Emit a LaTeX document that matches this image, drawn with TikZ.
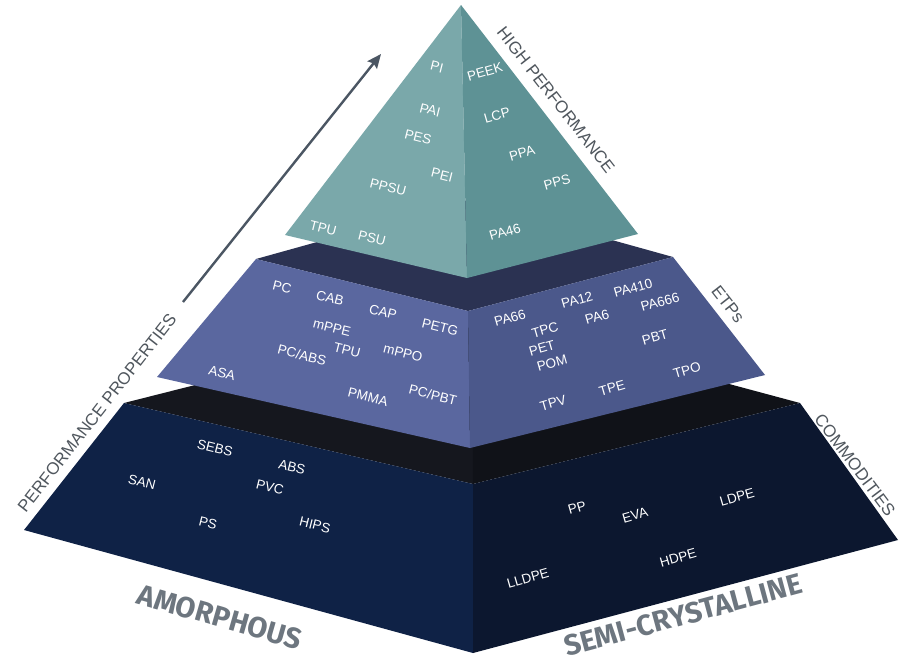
\documentclass[tikz,border=0pt]{standalone}
\usepackage{fontspec}
\setmainfont{Liberation Sans}
\newfontfamily\basefont{Fira Sans}
\usetikzlibrary{arrows.meta}
\definecolor{tealleft}{HTML}{7AA8AA}
\definecolor{tealright}{HTML}{5E9295}
\definecolor{midtop}{HTML}{2B3252}
\definecolor{midleft}{HTML}{5A679F}
\definecolor{midright}{HTML}{4B588B}
\definecolor{lowtop}{HTML}{15171E}
\definecolor{lowtopalt}{HTML}{101218}
\definecolor{lowleft}{HTML}{0F2246}
\definecolor{lowright}{HTML}{0C172F}
\definecolor{labelgray}{HTML}{50575E}
\definecolor{basegray}{HTML}{6D767F}
\definecolor{arrowgray}{HTML}{4B5663}
\tikzset{
  polylabel/.style={
    text=white,
    inner sep=1pt,
    font=\fontsize{13.5}{13.5}\selectfont
  },
  leftface/.style={polylabel, rotate=-14},
  rightface/.style={polylabel, rotate=16},
  sidelabel/.style={
    text=labelgray,
    inner sep=0pt,
    font=\fontsize{17}{17}\selectfont
  },
  baselabel/.style={
    text=basegray,
    inner sep=0pt,
    font=\basefont\bfseries\fontsize{29}{29}\selectfont
  }
}

\begin{document}
\begin{tikzpicture}[
  x=1pt, y=-1pt,
  face/.style={draw=none},
  perfArrow/.style={-{Stealth[length=14pt,width=12pt,inset=2pt]}, draw=arrowgray, fill=arrowgray, line width=2.4pt}
]
  \fill[white] (0,0) rectangle (904,665);
  \useasboundingbox (0,0) rectangle (904,665);

  % corners of the three tiers
  \coordinate (apex) at (461,5);
  \coordinate (topL) at (285,235);
  \coordinate (topM) at (467,278);
  \coordinate (topR) at (638,234);
  \coordinate (midL) at (256,259);
  \coordinate (midM) at (468,311);
  \coordinate (midR) at (673,257);
  \coordinate (midB) at (468,200);
  \coordinate (midBL) at (157,377);
  \coordinate (midBM) at (470,448);
  \coordinate (midBR) at (765,375);
  \coordinate (lowL) at (124,403);
  \coordinate (lowM) at (473,484);
  \coordinate (lowR) at (800,403);
  \coordinate (lowB) at (472,315);
  \coordinate (lowBL) at (24,530);
  \coordinate (lowBM) at (473,653);
  \coordinate (lowBR) at (898,540);

  % commodities
  \fill[face, lowtop] (lowL) -- (lowB) -- (lowM) -- cycle;
  \fill[face, lowtopalt] (lowB) -- (lowR) -- (lowM) -- cycle;
  \fill[face, lowleft] (lowL) -- (lowM) -- (lowBM) -- (lowBL) -- cycle;
  \fill[face, lowright] (lowM) -- (lowR) -- (lowBR) -- (lowBM) -- cycle;
  % ETPs
  \fill[face, midtop] (midL) -- (midB) -- (midR) -- (midM) -- cycle;
  \fill[face, midleft] (midL) -- (midM) -- (midBM) -- (midBL) -- cycle;
  \fill[face, midright] (midM) -- (midR) -- (midBR) -- (midBM) -- cycle;
  % high performance
  \fill[face, tealleft] (apex) -- (topM) -- (topL) -- cycle;
  \fill[face, tealright] (apex) -- (topR) -- (topM) -- cycle;

  \coordinate (arrowStart) at (183,302);
  \coordinate (arrowEnd) at (381,54);
  \draw[perfArrow] (arrowStart) -- (arrowEnd);

  \node[sidelabel, rotate=-52] (highperf) at (556,100) {HIGH PERFORMANCE};
  \node[sidelabel, rotate=-52] (etps) at (728,304) {ETPs};
  \node[sidelabel, rotate=-53] (commodities) at (855,465) {COMMODITIES};
  \node[sidelabel, rotate=52] (perfprops) at (97,413) {PERFORMANCE PROPERTIES};
  \node[baselabel, rotate=-16] (amorphous) at (220,617) {AMORPHOUS};
  \node[baselabel, rotate=15] (semicryst) at (683,615) {SEMI-CRYSTALLINE};

  \node[leftface] (pi) at (437,67) {PI};
  \node[leftface] (pai) at (430,110) {PAI};
  \node[leftface] (pes) at (418,137) {PES};
  \node[leftface] (pei) at (442,175) {PEI};
  \node[leftface] (ppsu) at (388,187) {PPSU};
  \node[leftface] (tpuTop) at (323,228) {TPU};
  \node[leftface] (psu) at (372,238) {PSU};
  \node[rightface] (peek) at (485,72) {PEEK};
  \node[rightface] (lcp) at (497,115) {LCP};
  \node[rightface] (ppa) at (522,153) {PPA};
  \node[rightface] (pps) at (557,182) {PPS};
  \node[rightface] (pa46) at (505,232) {PA46};

  \node[leftface] (pc) at (282,287) {PC};
  \node[leftface] (cab) at (330,298) {CAB};
  \node[leftface] (cap) at (383,312) {CAP};
  \node[leftface] (petg) at (440,327) {PETG};
  \node[leftface] (mppe) at (332,328) {mPPE};
  \node[leftface] (tpuMid) at (347,350) {TPU};
  \node[leftface] (mppo) at (403,353) {mPPO};
  \node[leftface] (pcabs) at (302,355) {PC/ABS};
  \node[leftface] (asa) at (222,373) {ASA};
  \node[leftface] (pmma) at (368,397) {PMMA};
  \node[leftface] (pcpbt) at (433,395) {PC/PBT};
  \node[rightface] (pa66) at (510,318) {PA66};
  \node[rightface] (pa12) at (577,300) {PA12};
  \node[rightface] (pa410) at (633,288) {PA410};
  \node[rightface] (pa6) at (597,317) {PA6};
  \node[rightface] (pa666) at (660,302) {PA666};
  \node[rightface] (tpc) at (545,330) {TPC};
  \node[rightface] (pet) at (542,348) {PET};
  \node[rightface] (pom) at (552,363) {POM};
  \node[rightface] (pbt) at (655,337) {PBT};
  \node[rightface] (tpo) at (687,370) {TPO};
  \node[rightface] (tpe) at (612,388) {TPE};
  \node[rightface] (tpv) at (553,403) {TPV};

  \node[leftface] (sebs) at (215,448) {SEBS};
  \node[leftface] (abs) at (292,467) {ABS};
  \node[leftface] (san) at (142,482) {SAN};
  \node[leftface] (pvc) at (270,487) {PVC};
  \node[leftface] (ps) at (208,523) {PS};
  \node[leftface] (hips) at (315,525) {HIPS};
  \node[rightface] (pp) at (577,508) {PP};
  \node[rightface] (eva) at (635,515) {EVA};
  \node[rightface] (ldpe) at (737,497) {LDPE};
  \node[rightface] (hdpe) at (678,558) {HDPE};
  \node[rightface] (lldpe) at (528,578) {LLDPE};
\end{tikzpicture}
\end{document}
